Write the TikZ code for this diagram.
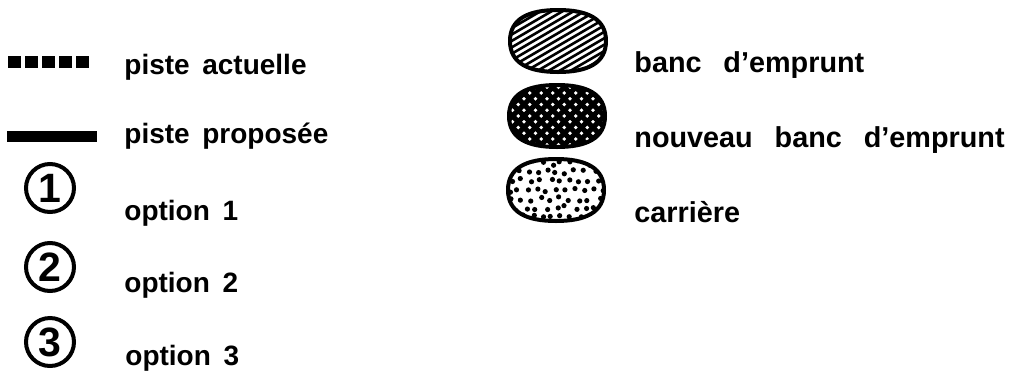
\documentclass[tikz,border=0pt]{standalone}
\usepackage{fontspec}
\newfontfamily\legendfont{Liberation Sans}
\newcommand{\legfont}{\legendfont\bfseries\fontsize{14}{17}\selectfont\spaceskip 0.45em\relax}
\newcommand{\pitfont}{\legendfont\bfseries\fontsize{14.4}{17}\selectfont\spaceskip 0.76em\relax}
\newcommand{\blobpath}{(-48,0) .. controls (-48,-22) and (-30,-31) .. (0,-31) .. controls (30,-31) and (48,-22) .. (48,0) .. controls (48,22) and (30,31) .. (0,31) .. controls (-30,31) and (-48,22) .. (-48,0) -- cycle}
\begin{document}
\begin{tikzpicture}[
x=0.5pt, y=-0.5pt,
legtext/.style={anchor=base west, inner sep=0pt, font=\legfont},
pittext/.style={anchor=base west, inner sep=0pt, font=\pitfont},
optnum/.style={circle, draw, line width=2pt, minimum size=24pt, inner sep=0pt, font=\legendfont\bfseries\fontsize{20.5}{24}\selectfont},
track/.style={line width=6pt},
blobline/.style={line width=2pt}
]
\useasboundingbox (0,0) rectangle (1011,376);

% tracks
\coordinate (oldA) at (8,62);
\coordinate (oldB) at (89,62);
\draw[track, dash pattern=on 6.5pt off 2pt] (oldA) -- (oldB);
\node[legtext] (actuelle) at (124,74) {piste actuelle};

\coordinate (newA) at (7,136);
\coordinate (newB) at (97,136);
\draw[track, line width=5.5pt] (newA) -- (newB);
\node[legtext] (proposee) at (124,143) {piste proposée};

% options
\node[optnum] (opt1) at (50,188) {1};
\node[optnum] (opt2) at (50,267) {2};
\node[optnum] (opt3) at (50,342) {3};
\node[legtext] (option1) at (124,220) {option 1};
\node[legtext] (option2) at (124,292) {option 2};
\node[legtext] (option3) at (125,365) {option 3};

% borrow pits
\coordinate (banc) at (558,41);
\coordinate (nouveau) at (557,116);
\coordinate (carriere) at (556,190);

\begin{scope}[shift={(banc)}]
  \begin{scope}
    \clip \blobpath;
    \foreach \i in {-10,...,10}
      \draw[line width=1.3pt] (\i*11-60,40) -- ++(120,-70);
  \end{scope}
  \draw[blobline] \blobpath;
\end{scope}

\begin{scope}[shift={(nouveau)}]
  \begin{scope}
    \clip \blobpath;
    \foreach \i in {-10,...,10} {
      \draw[line width=2.6pt] (\i*11.5-50,40) -- ++(100,-100);
      \draw[line width=2.6pt] (\i*11.5-50,-40) -- ++(100,100);
    }
  \end{scope}
  \draw[blobline] \blobpath;
\end{scope}

\begin{scope}[shift={(carriere)}]
  \begin{scope}
    \clip \blobpath;
    \pgfmathsetseed{4711}
    \foreach \i in {-5,...,5}
      \foreach \j in {-3,...,3} {
        \pgfmathsetmacro\dx{\i*9.5+mod(\j+10,2)*4.7+rand*2.5}
        \pgfmathsetmacro\dy{\j*9+rand*2.5}
        \fill (\dx,\dy) circle (1.3pt);
      }
  \end{scope}
  \draw[blobline] \blobpath;
\end{scope}

\node[pittext] (emprunt) at (634,72) {banc d’emprunt};
\node[pittext] (nouvemprunt) at (634,147) {nouveau banc d’emprunt};
\node[pittext] (carr) at (634,222) {carrière};
\end{tikzpicture}
\end{document}
